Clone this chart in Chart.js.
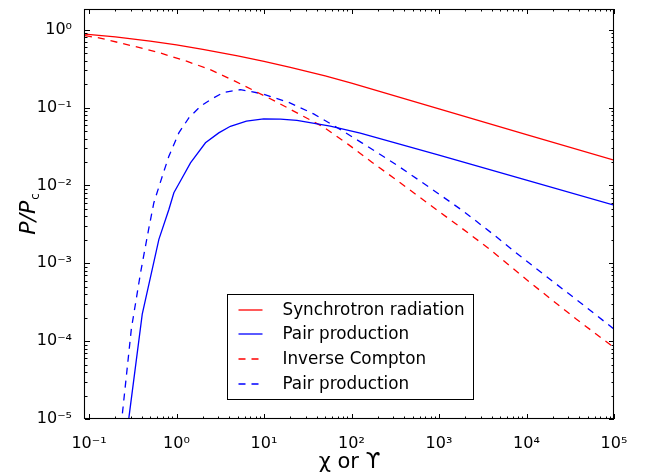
<!DOCTYPE html>
<html>
<head>
<meta charset="utf-8">
<script src="https://cdn.jsdelivr.net/npm/chart.js@4.4.1/dist/chart.umd.min.js"></script>
<style>
  html, body { margin: 0; padding: 0; background: #fff; }
  #wrap { width: 650px; height: 476px; }
</style>
</head>
<body>
<div id="wrap"><canvas id="chart" width="650" height="476"></canvas></div>
<script>
// values, x = chi (or Upsilon), y = P/Pc
const synchX = [0.09, 0.2, 0.5, 1, 2, 5, 10, 20, 50, 100, 1e3, 1e4, 1e5];
const synchY = [0.88, 0.813, 0.715, 0.64, 0.561, 0.463, 0.394, 0.33, 0.255, 0.206, 0.0962, 0.045, 0.0211];

const pairX = [0.255, 0.286, 0.406, 0.629, 0.818, 0.933, 1.163, 1.445, 2.143, 3.04, 4.13, 6.3, 9.91, 15.4, 23.8, 57.1, 126, 1e3, 1e4, 1e5];
const pairY = [3.9e-6, 1.05e-5, 2.22e-4, 2.03e-3, 4.92e-3, 8.06e-3, 0.01255, 0.01954, 0.0353, 0.0474, 0.0576, 0.0671, 0.0716, 0.0712, 0.0687, 0.058, 0.0472, 0.0245, 0.01175, 0.0056];

const icX = [0.09, 0.1335, 0.299, 0.603, 1.326, 2.339, 4.716, 7.31, 13.49, 26, 47.9, 92.5, 171, 301, 791, 1897, 3821, 10450, 20170, 37270, 1e5];
const icY = [0.84, 0.783, 0.629, 0.518, 0.392, 0.3134, 0.2174, 0.17, 0.1205, 0.0813, 0.0562, 0.0335, 0.0199, 0.01258, 5.62e-3, 2.73e-3, 1.51e-3, 5.93e-4, 3.29e-4, 1.91e-4, 8.3e-5];

const pair2X = [0.221, 0.2405, 0.3046, 0.389, 0.48, 0.551, 0.688, 0.818, 1.063, 1.383, 1.88, 2.445, 3.467, 5.38, 9.51, 19.1, 36.9, 68.2, 131.5, 330, 791, 1897, 4170, 7710, 16950, 40640, 1e5];
const pair2Y = [5.5e-6, 1.16e-5, 1.43e-4, 7.67e-4, 2.73e-3, 6.0e-3, 0.01316, 0.02375, 0.0474, 0.0738, 0.104, 0.1267, 0.157, 0.17, 0.151, 0.117, 0.0832, 0.0556, 0.0353, 0.01828, 9.33e-3, 4.68e-3, 2.355e-3, 1.35e-3, 6.76e-4, 3.16e-4, 1.43e-4];

const seriesNames = ['Synchrotron radiation', 'Pair production', 'Inverse Compton', 'Pair production'];

// axis ticks
const ticksX = [0.1, 1, 10, 100, 1e3, 1e4, 1e5];
const tickLabelsX = ['10⁻¹', '10⁰', '10¹', '10²', '10³', '10⁴', '10⁵'];
const ticksY = [1e-5, 1e-4, 1e-3, 1e-2, 1e-1, 1];
const tickLabelsY = ['10⁻⁵', '10⁻⁴', '10⁻³', '10⁻²', '10⁻¹', '10⁰'];

const FONT = 'DejaVu Sans';
Chart.defaults.font.family = FONT;
Chart.defaults.color = '#000';

function pts(xs, ys) {
    return xs.map((x, i) => ({ x: x, y: ys[i] }));
}

// 1..9 x 10^n between min and max (minor + major tick positions)
function logTicks(min, max) {
    const out = [];
    for (let e = Math.floor(Math.log10(min)); e <= Math.ceil(Math.log10(max)); e++) {
        for (let k = 1; k < 10; k++) {
            const v = k * Math.pow(10, e);
            if (v >= min * 0.999 && v <= max * 1.001) out.push(v);
        }
    }
    return out;
}

function findTick(arr, v) {
    return arr.findIndex(t => Math.abs(t - v) / t < 1e-6);
}

// frame + inward ticks on all four sides, y title
const framePlugin = {
    id: 'frame',
    afterDraw(chart) {
        const { ctx, chartArea: a } = chart;
        const xs = chart.scales.x, ys = chart.scales.y;
        ctx.save();
        ctx.strokeStyle = '#000';
        ctx.lineWidth = 1;
        ctx.beginPath();
        xs.ticks.forEach(t => {
            const p = Math.round(xs.getPixelForValue(t.value)) + 0.5;
            const len = findTick(ticksX, t.value) >= 0 ? 5 : 2.5;
            ctx.moveTo(p, a.bottom); ctx.lineTo(p, a.bottom - len);
            ctx.moveTo(p, a.top); ctx.lineTo(p, a.top + len);
        });
        ys.ticks.forEach(t => {
            const p = Math.round(ys.getPixelForValue(t.value)) + 0.5;
            const len = findTick(ticksY, t.value) >= 0 ? 5 : 2.5;
            ctx.moveTo(a.left, p); ctx.lineTo(a.left + len, p);
            ctx.moveTo(a.right, p); ctx.lineTo(a.right - len, p);
        });
        ctx.stroke();
        ctx.lineWidth = 1.1;
        ctx.strokeRect(a.left - 0.5, a.top + 0.5, a.right - a.left, a.bottom - a.top - 1);

        // y axis title P/Pc
        ctx.translate(35, (a.top + a.bottom) / 2);
        ctx.rotate(-Math.PI / 2);
        ctx.fillStyle = '#000';
        ctx.textBaseline = 'alphabetic';
        ctx.font = 'italic 22px "' + FONT + '"';
        const wMain = ctx.measureText('P/P').width;
        ctx.font = '12px "' + FONT + '"';
        const wSub = ctx.measureText('c').width;
        const start = -(wMain + wSub + 1) / 2;
        ctx.font = 'italic 22px "' + FONT + '"';
        ctx.fillText('P/P', start, 0);
        ctx.font = '12px "' + FONT + '"';
        ctx.fillText('c', start + wMain + 1, 4);
        ctx.restore();
    }
};

// boxed legend at lower centre
const legendPlugin = {
    id: 'boxLegend',
    afterDraw(chart) {
        const { ctx, chartArea: a } = chart;
        const w = 246, h = 105;
        const x0 = Math.round((a.left + a.right) / 2 - w / 2) + 0.5;
        const y0 = Math.round(a.bottom - 20 - h) + 0.5;
        ctx.save();
        ctx.fillStyle = '#fff';
        ctx.fillRect(x0, y0, w, h);
        ctx.strokeStyle = '#000';
        ctx.lineWidth = 1;
        ctx.strokeRect(x0, y0, w, h);
        ctx.font = '16.8px "' + FONT + '"';
        ctx.textBaseline = 'middle';
        chart.data.datasets.forEach((ds, i) => {
            const y = Math.round(y0 + 15 + i * 24.9);
            ctx.strokeStyle = ds.borderColor;
            ctx.lineWidth = ds.borderWidth;
            ctx.setLineDash(ds.borderDash || []);
            ctx.beginPath();
            ctx.moveTo(x0 + 11, y);
            ctx.lineTo(x0 + 35, y);
            ctx.stroke();
            ctx.setLineDash([]);
            ctx.fillStyle = '#000';
            ctx.fillText(ds.label, x0 + 55, y + 1);
        });
        ctx.restore();
    }
};

const ctx = document.getElementById('chart').getContext('2d');
const myChart = new Chart(ctx, {
    type: 'line',
    data: {
        datasets: [
            { label: seriesNames[0], data: pts(synchX, synchY), borderColor: '#ff0000', borderWidth: 1.3 },
            { label: seriesNames[1], data: pts(pairX, pairY), borderColor: '#0000ff', borderWidth: 1.3 },
            { label: seriesNames[2], data: pts(icX, icY), borderColor: '#ff0000', borderWidth: 1.3, borderDash: [7, 6] },
            { label: seriesNames[3], data: pts(pair2X, pair2Y), borderColor: '#0000ff', borderWidth: 1.3, borderDash: [7, 6] }
        ]
    },
    options: {
        responsive: false,
        animation: false,
        devicePixelRatio: 1,
        layout: { padding: { left: 0, right: 36, top: 9, bottom: 0 } },
        elements: { point: { radius: 0 }, line: { tension: 0, fill: false } },
        plugins: { legend: { display: false }, tooltip: { enabled: false } },
        scales: {
            x: {
                type: 'logarithmic',
                min: 0.09,
                max: 1e5,
                grid: { display: false },
                border: { display: false },
                afterBuildTicks: s => { s.ticks = logTicks(0.1, 1e5).map(v => ({ value: v })); },
                afterFit: s => { s.height = 57; s.paddingLeft = 0; s.paddingRight = 0; },
                ticks: {
                    autoSkip: false,
                    maxRotation: 0,
                    padding: 7,
                    font: { size: 16 },
                    callback: v => { const i = findTick(ticksX, v); return i >= 0 ? tickLabelsX[i] : ''; }
                },
                title: { display: true, text: 'χ or ϒ', font: { size: 21 }, padding: { top: 0, bottom: 1 } }
            },
            y: {
                type: 'logarithmic',
                min: 1e-5,
                max: 1.85,
                grid: { display: false },
                border: { display: false },
                afterBuildTicks: s => { s.ticks = logTicks(1e-5, 1.85).map(v => ({ value: v })); },
                afterFit: s => { s.width = 85; s.paddingTop = 0; s.paddingBottom = 0; },
                ticks: {
                    autoSkip: false,
                    padding: 5,
                    font: { size: 16 },
                    callback: v => { const i = findTick(ticksY, v); return i >= 0 ? tickLabelsY[i] : ''; }
                }
            }
        }
    },
    plugins: [framePlugin, legendPlugin]
});
</script>
</body>
</html>
